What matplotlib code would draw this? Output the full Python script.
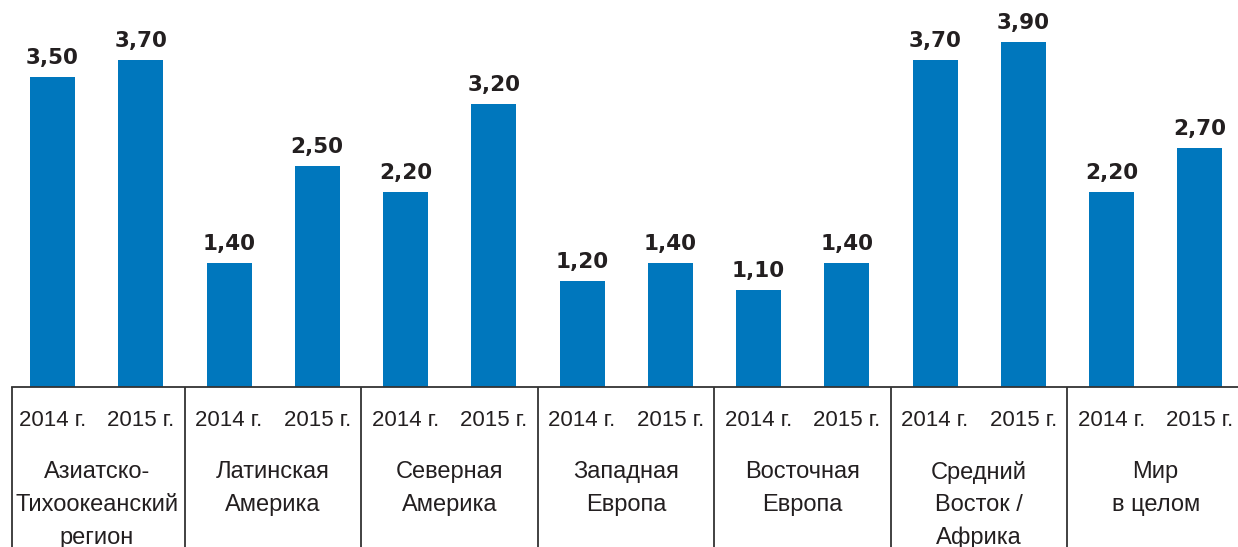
import matplotlib
matplotlib.use("Agg")
import matplotlib.pyplot as plt
from matplotlib import font_manager

regions = ["Азиатско-\nТихоокеанский\nрегион", "Латинская\nАмерика", "Северная\nАмерика",
           "Западная\nЕвропа", "Восточная\nЕвропа", "Средний\nВосток /\nАфрика", "Мир\nв целом"]
years = ["2014 г.", "2015 г."]
values_2014 = [3.50, 1.40, 2.20, 1.20, 1.10, 3.70, 2.20]
values_2015 = [3.70, 2.50, 3.20, 1.40, 1.40, 3.90, 2.70]

names = {f.name for f in font_manager.fontManager.ttflist}
fam = "Liberation Sans Narrow" if "Liberation Sans Narrow" in names else "Liberation Sans"

BLUE = "#0077BD"
TXT = "#231F20"

W, H = 1238, 547
fig = plt.figure(figsize=(W / 100, H / 100), dpi=100)
ax = fig.add_axes([0, 0, 1, 1])
ax.set_axis_off()

px_x = 88.25   # pixels per x unit
x0_px = 52.5
px_y = 88.5
base_px = 387
ax.set_xlim(-x0_px / px_x, (W - x0_px) / px_x)
ax.set_ylim(-(H - base_px) / px_y, base_px / px_y)

bw = 45 / px_x
for g, (v14, v15) in enumerate(zip(values_2014, values_2015)):
    for k, v in enumerate((v14, v15)):
        x = 2 * g + k
        ax.bar(x, v, width=bw, color=BLUE, zorder=2)
        ax.text(x, v + 9 / px_y, f"{v:.2f}".replace(".", ","), ha="center", va="bottom",
                fontsize=15.5, fontweight="bold", color=TXT, family="DejaVu Sans")
        ax.text(x, -34 / px_y, years[k], ha="center", va="center", fontsize=16,
                color=TXT, family=fam)
    lines = regions[g].split("\n")
    for j, ln in enumerate(lines):
        ax.text(2 * g + 0.5, -(85 + 33 * j) / px_y, ln, ha="center", va="center",
                fontsize=17, color=TXT, family=fam)

ylow = -(H - base_px) / px_y
ax.axhline(0, color="#333333", lw=1.3, xmin=12 / W, xmax=1, zorder=3)
seps = [-0.46] + [2 * g + 1.5 for g in range(len(regions) - 1)]
ax.vlines(seps, ylow, 0, color="#333333", lw=1.3)

fig.savefig("out.png", dpi=100)
